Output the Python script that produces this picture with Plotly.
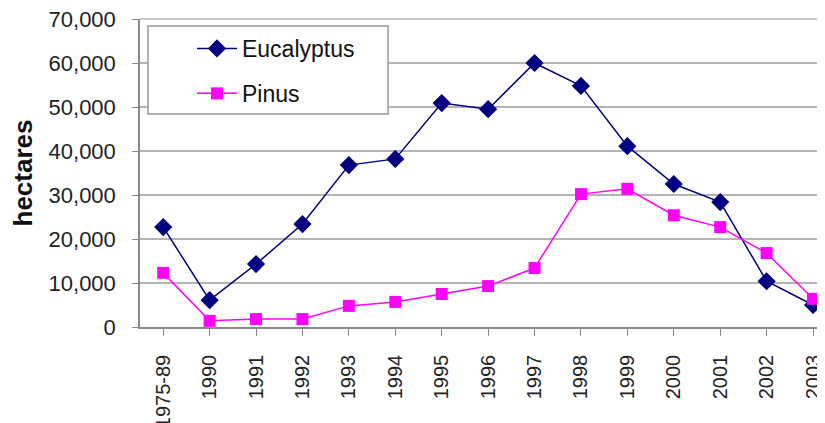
import plotly.graph_objects as go

categories = ["1975-89", "1990", "1991", "1992", "1993", "1994", "1995", "1996",
              "1997", "1998", "1999", "2000", "2001", "2002", "2003"]
eucalyptus = [22700, 6100, 14300, 23400, 36800, 38200, 50900, 49500,
              60000, 54800, 41100, 32500, 28400, 10400, 5000]
pinus = [12300, 1400, 1800, 1800, 4800, 5700, 7500, 9300,
         13400, 30200, 31400, 25400, 22700, 16800, 6400]
y_ticks = [0, 10000, 20000, 30000, 40000, 50000, 60000, 70000]

xs = list(range(len(categories)))
fig = go.Figure()
fig.add_trace(go.Scatter(
    x=xs, y=eucalyptus, name="Eucalyptus", mode="lines+markers", legendgroup="a",
    line=dict(color="#000080", width=1.5),
    marker=dict(symbol="diamond", size=14, color="#000080")))
fig.add_trace(go.Scatter(
    x=xs, y=pinus, name="Pinus", mode="lines+markers", legendgroup="b",
    line=dict(color="#FF00FF", width=1.5),
    marker=dict(symbol="square", size=12, color="#FF00FF")))

# top gridline at the upper range edge (top of plot area)
fig.add_shape(type="line", xref="paper", yref="paper", x0=0, x1=1,
              y0=1, y1=1, line=dict(color="#b4b4b4", width=1.5), layer="above")
# legend frame
fig.add_shape(type="rect", xref="paper", yref="paper",
              x0=0.0115, x1=0.358, y0=0.6916, y1=0.977,
              line=dict(color="#999", width=1.5), fillcolor="white", layer="above")

fig.update_layout(
    width=825, height=423,
    margin=dict(l=132, r=0, t=11, b=104, autoexpand=False),
    paper_bgcolor="white", plot_bgcolor="white",
    font=dict(family="Liberation Sans, Arial", size=22, color="#222"),
    showlegend=True,
    legend=dict(x=0.075, y=0.974, xanchor="left", yanchor="top",
                bgcolor="rgba(0,0,0,0)", borderwidth=0,
                font=dict(size=23, color="#111"), itemwidth=40,
                tracegroupgap=12),
    xaxis=dict(
        tickmode="array", tickvals=xs, ticktext=categories, automargin=False,
        range=[-0.5, 14.43], tickangle=-90, showgrid=False,
        showline=True, linecolor="#888", linewidth=1.5,
        ticks="outside", ticklen=7, tickcolor="#888", tickson="boundaries",
        ticklabelstandoff=11, ticklabeloverflow="allow",
        tickfont=dict(size=20, color="#222"), zeroline=False),
    yaxis=dict(
        range=[0, 70000], tickvals=y_ticks, tickformat=",", automargin=False,
        showgrid=True, gridcolor="#b4b4b4", gridwidth=1.5,
        showline=True, linecolor="#888", linewidth=1.5,
        ticks="outside", ticklen=6, tickcolor="#888", ticklabelstandoff=12,
        ticklabeloverflow="allow",
        tickfont=dict(size=22, color="#222"), zeroline=False,
        title=dict(text="<b>hectares</b>", font=dict(size=26, color="#111"), standoff=8)),
)

fig.write_html("out.html")
